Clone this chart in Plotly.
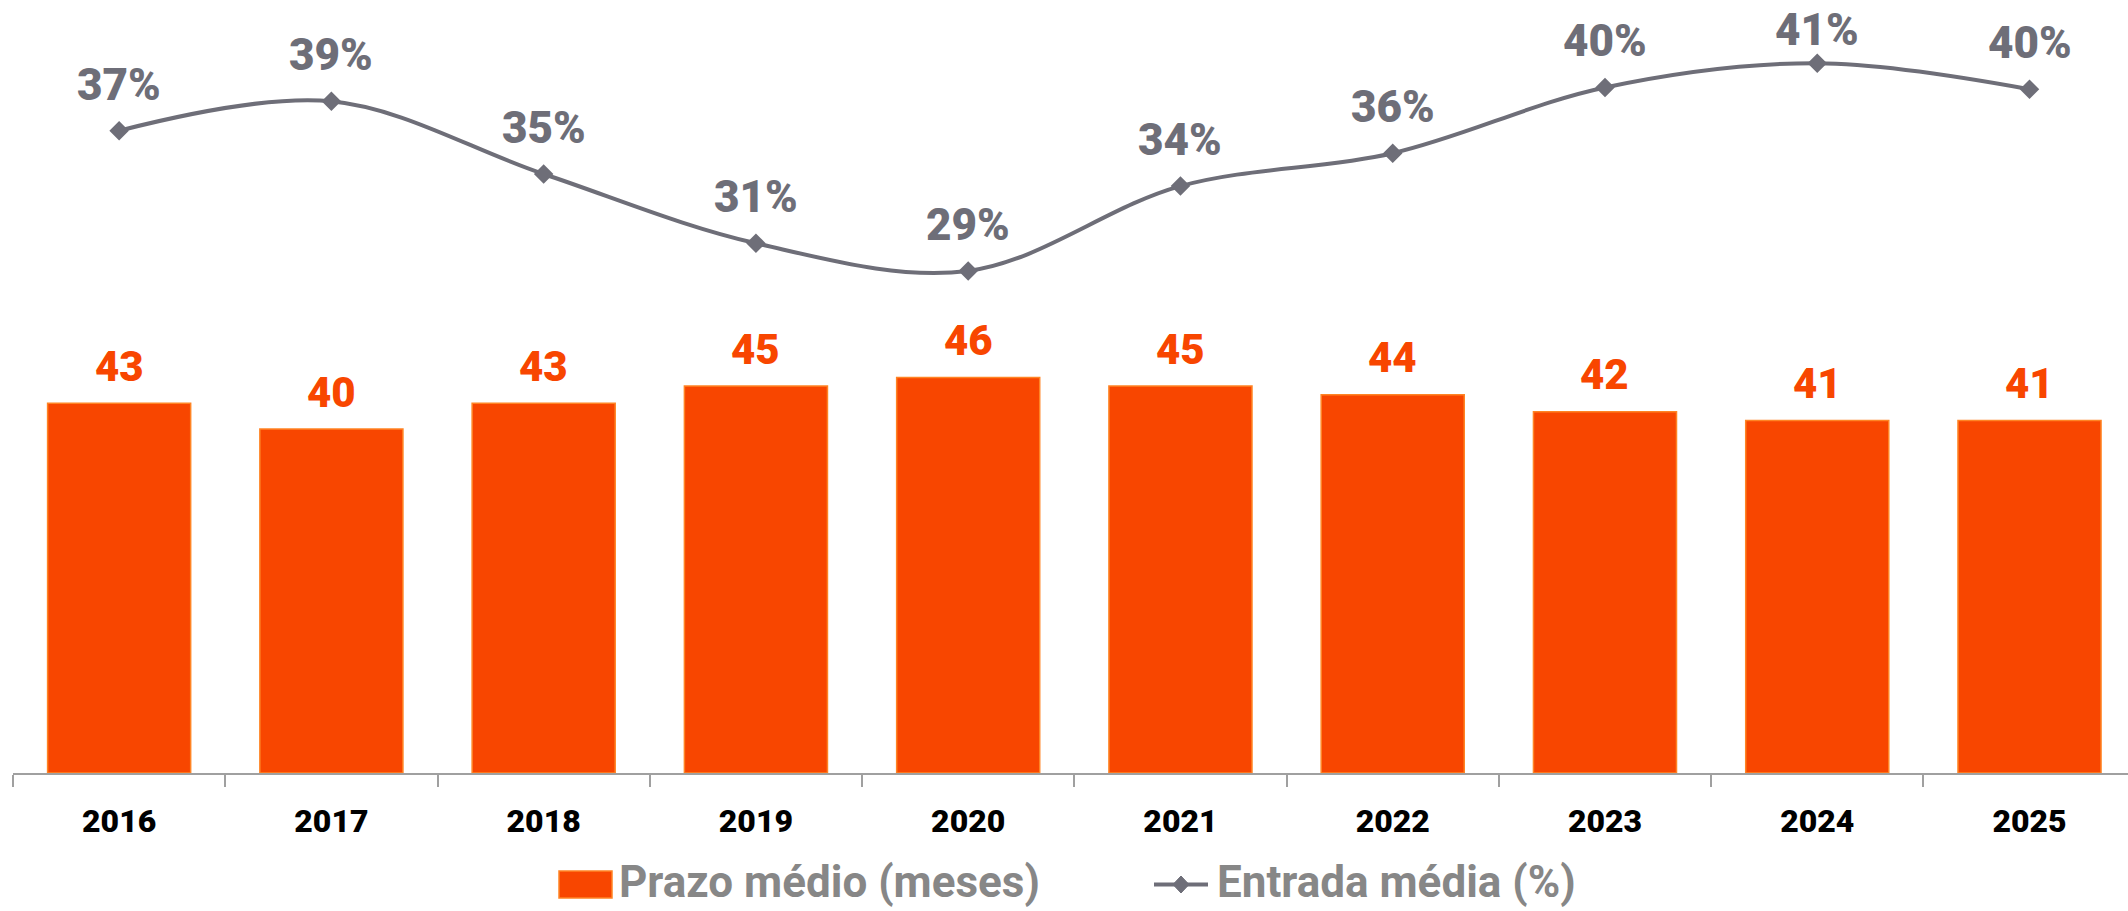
import plotly.graph_objects as go

years = ["2016", "2017", "2018", "2019", "2020", "2021", "2022", "2023", "2024", "2025"]
prazo_medio = [43, 40, 43, 45, 46, 45, 44, 42, 41, 41]
entrada_media = [37.1, 38.8, 34.6, 30.6, 29.0, 33.9, 35.8, 39.6, 41.0, 39.5]
series_names = ["Prazo médio (meses)", "Entrada média (%)"]

ORANGE = "#F84600"
ORANGE_EDGE = "#FF8424"
GRAY = "#6E6E78"
LEGEND_GRAY = "#878787"
FONT = "Roboto"

# figure geometry (pixels)
W, H = 2128, 911
ML, MB = 13, 138
PW, PH = W - ML, H - MB
Y1_MAX, Y2_MAX = 89.9, 44.65


def px_x(p):
    return (p - ML) / PW


def px_y(p):
    return (PH - p) / PH


fig = go.Figure()
fig.add_trace(go.Bar(
    x=years, y=prazo_medio, name=series_names[0],
    marker=dict(color=ORANGE, line=dict(color=ORANGE_EDGE, width=1.5)),
    width=0.674, showlegend=False, hoverinfo="x+y",
))
fig.add_trace(go.Scatter(
    x=years, y=entrada_media, name=series_names[1], yaxis="y2",
    mode="lines+markers",
    line=dict(color=GRAY, width=4, shape="spline", smoothing=1.0),
    marker=dict(symbol="diamond", size=15, color=GRAY),
    showlegend=False, cliponaxis=False,
))

annotations = []
# category axis: position annotations by category index
for i, v in enumerate(prazo_medio):
    annotations.append(dict(
        x=i, y=v, xref="x", yref="y", text=f"{v}", showarrow=False,
        yanchor="middle", yshift=37,
        font=dict(family=FONT, size=42, color=ORANGE, weight=900),
    ))
for i, v in enumerate(entrada_media):
    marker_top = PH * (1 - v / Y2_MAX)          # pixel row of the marker
    shift = min(46, marker_top - 30)            # keep label inside the chart
    annotations.append(dict(
        x=i, y=v, xref="x", yref="y2", text=f"{v:.0f}%", showarrow=False,
        yanchor="middle", yshift=shift,
        font=dict(family=FONT, size=44, color=GRAY, weight=900),
    ))

# manual legend
leg_y = px_y(882)
annotations.append(dict(
    x=px_x(617), y=leg_y, xref="paper", yref="paper", text=series_names[0],
    showarrow=False, xanchor="left", yanchor="middle",
    font=dict(family=FONT, size=44, color=LEGEND_GRAY, weight=700),
))
annotations.append(dict(
    x=px_x(1215), y=leg_y, xref="paper", yref="paper", text=series_names[1],
    showarrow=False, xanchor="left", yanchor="middle",
    font=dict(family=FONT, size=44, color=LEGEND_GRAY, weight=700),
))

shapes = [
    dict(type="rect", xref="paper", yref="paper",
         x0=px_x(559), x1=px_x(612), y0=px_y(898), y1=px_y(871),
         fillcolor=ORANGE, line=dict(color=ORANGE_EDGE, width=1.5)),
    dict(type="line", xref="paper", yref="paper",
         x0=px_x(1154), x1=px_x(1208), y0=px_y(884.5), y1=px_y(884.5),
         line=dict(color=GRAY, width=4)),
    dict(type="path", xref="paper", yref="paper",
         path=(f"M {px_x(1181)} {px_y(876)} L {px_x(1189)} {px_y(884.5)} "
               f"L {px_x(1181)} {px_y(893)} L {px_x(1173)} {px_y(884.5)} Z"),
         fillcolor=GRAY, line=dict(color=GRAY, width=1)),
]

fig.update_layout(
    width=W, height=H,
    margin=dict(l=ML, r=0, t=0, b=MB, pad=0),
    plot_bgcolor="white", paper_bgcolor="white",
    showlegend=False,
    annotations=annotations,
    shapes=shapes,
    xaxis=dict(range=[-0.5, 9.464], showline=True, linecolor="#A0A0A0", linewidth=2,
               ticks="outside", tickson="boundaries", ticklen=12, tickcolor="#A0A0A0", tickwidth=2,
               ticklabelstandoff=19, automargin=False,
               tickfont=dict(family=FONT, size=32, color="black", weight=900),
               showgrid=False, zeroline=False),
    yaxis=dict(range=[0, Y1_MAX], visible=False, showgrid=False, zeroline=False, automargin=False),
    yaxis2=dict(range=[0, Y2_MAX], overlaying="y", side="right", visible=False,
                showgrid=False, zeroline=False, automargin=False),
)

fig.write_html("out.html", config={"displayModeBar": False},
               post_script="document.body.style.margin='0';document.body.style.overflow='hidden';")
